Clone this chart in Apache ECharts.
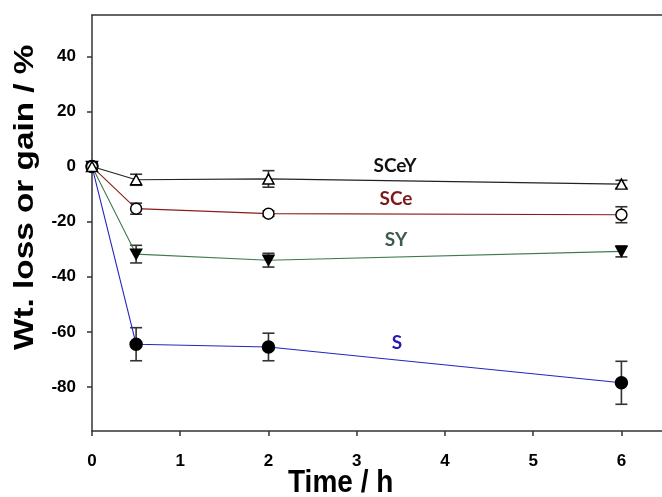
<!DOCTYPE html>
<html>
<head>
<meta charset="utf-8">
<script src="https://cdn.jsdelivr.net/npm/echarts@6/dist/echarts.min.js"></script>
<style>html,body{margin:0;padding:0;background:#fff}#c{width:662px;height:497px}</style>
</head>
<body>
<div id="c"></div>
<script>
var timeH = [0, 0.5, 2, 6];
var sceyMean = [0, -4.8, -4.5, -6.4];
var sceyErr  = [0, 2.0, 3.0, 1.4];
var sceMean  = [0, -15.3, -17.1, -17.5];
var sceErr   = [0, 2.0, 1.0, 2.9];
var syMean   = [0, -31.8, -34.0, -30.8];
var syErr    = [0, 3.2, 2.5, 2.0];
var sMean    = [0, -64.5, -65.5, -78.5];
var sErr     = [0, 6.0, 5.0, 7.8];
var xTicks = [0, 1, 2, 3, 4, 5, 6];
var yTicks = [-80, -60, -40, -20, 0, 20, 40];
var seriesNames = ['S', 'SY', 'SCe', 'SCeY'];

function pairs(m){ return timeH.map(function(t,i){ return [t, m[i]]; }); }
function errData(m,e){ return timeH.map(function(t,i){ return [t, m[i]-e[i], m[i]+e[i]]; }).filter(function(d,i){return e[i]>0;}); }

function errSeries(m,e){
  return {
    type:'custom', z:1, silent:true,
    data: errData(m,e),
    renderItem:function(params, api){
      var lo = api.coord([api.value(0), api.value(1)]);
      var hi = api.coord([api.value(0), api.value(2)]);
      var w = 6;
      var st = {stroke:'#333', lineWidth:1.6};
      return {type:'group', children:[
        {type:'line', shape:{x1:lo[0],y1:lo[1],x2:hi[0],y2:hi[1]}, style:st},
        {type:'line', shape:{x1:lo[0]-w,y1:lo[1],x2:lo[0]+w,y2:lo[1]}, style:st},
        {type:'line', shape:{x1:hi[0]-w,y1:hi[1],x2:hi[0]+w,y2:hi[1]}, style:st}
      ]};
    }
  };
}

var downTri = 'path://M0,0 L10,0 L5,9 Z';
var lineSeries = [
  {name:'S', data:pairs(sMean), color:'#2424c0', symbol:'circle', fill:'#000', size:12},
  {name:'SY', data:pairs(syMean), color:'#3f7a50', symbol:downTri, fill:'#000', size:[11,10]},
  {name:'SCe', data:pairs(sceMean), color:'#8b1c1c', symbol:'circle', fill:'#fff', size:11},
  {name:'SCeY', data:pairs(sceyMean), color:'#222', symbol:'triangle', fill:'#fff', size:[11,10]}
].map(function(s, k){
  return {
    type:'line', name:s.name, data:s.data, z:3+k,
    symbol:s.symbol, symbolSize:s.size, showAllSymbol:true,
    lineStyle:{color:s.color, width:1.1},
    itemStyle:{color:s.fill, borderColor:'#000', borderWidth:1.5},
    emphasis:{disabled:true}, animation:false
  };
});

var axisLineStyle = {color:'#333', width:1.5};
var chart = echarts.init(document.getElementById('c'), null, {renderer:'canvas'});
chart.setOption({
  animation:false,
  grid:{left:92, top:15, right:0, height:416, show:false},
  xAxis:[{type:'value', min:0, max:6.46,
    axisLine:{show:true, onZero:false, lineStyle:axisLineStyle},
    axisTick:{show:true, inside:false, length:5, customValues:xTicks, lineStyle:axisLineStyle},
    axisLabel:{customValues:xTicks, margin:22, color:'#000', fontFamily:'Liberation Sans', fontWeight:'bold', fontSize:17},
    splitLine:{show:false}},
    {type:'value', position:'top', min:0, max:6.46,
    axisLine:{show:true, onZero:false, lineStyle:axisLineStyle},
    axisTick:{show:false}, axisLabel:{show:false}, splitLine:{show:false}}],
  yAxis:{type:'value', min:-96, max:55,
    axisLine:{show:true, onZero:false, lineStyle:axisLineStyle},
    axisTick:{show:true, inside:false, length:5, customValues:yTicks, lineStyle:axisLineStyle},
    axisLabel:{customValues:yTicks, margin:16, color:'#000', fontFamily:'Liberation Sans', fontWeight:'bold', fontSize:17},
    splitLine:{show:false}},
  graphic:[
    {type:'text', left:288, top:468, scaleY:1.12, style:{text:'Time / h', fill:'#000', font:'bold 28px "Liberation Sans"'}},
    {type:'text', x:11, y:350, rotation:Math.PI/2, scaleX:1.19, style:{text:'Wt. loss or gain / %', fill:'#000', font:'bold 28px "Liberation Sans"'}},
    {type:'text', x:395, y:166, style:{text:'SCeY', fill:'#111', align:'center', verticalAlign:'middle', font:'bold 19px Lato'}},
    {type:'text', x:396, y:199, style:{text:'SCe', fill:'#7a1a1a', align:'center', verticalAlign:'middle', font:'bold 19px Lato'}},
    {type:'text', x:396, y:240, style:{text:'SY', fill:'#3c5c4c', align:'center', verticalAlign:'middle', font:'bold 19px Lato'}},
    {type:'text', x:397, y:343, style:{text:'S', fill:'#2a1ab4', align:'center', verticalAlign:'middle', font:'bold 19px Lato'}}
  ],
  series:[errSeries(sMean,sErr), errSeries(syMean,syErr), errSeries(sceMean,sceErr), errSeries(sceyMean,sceyErr)].concat(lineSeries)
});
</script>
</body>
</html>
